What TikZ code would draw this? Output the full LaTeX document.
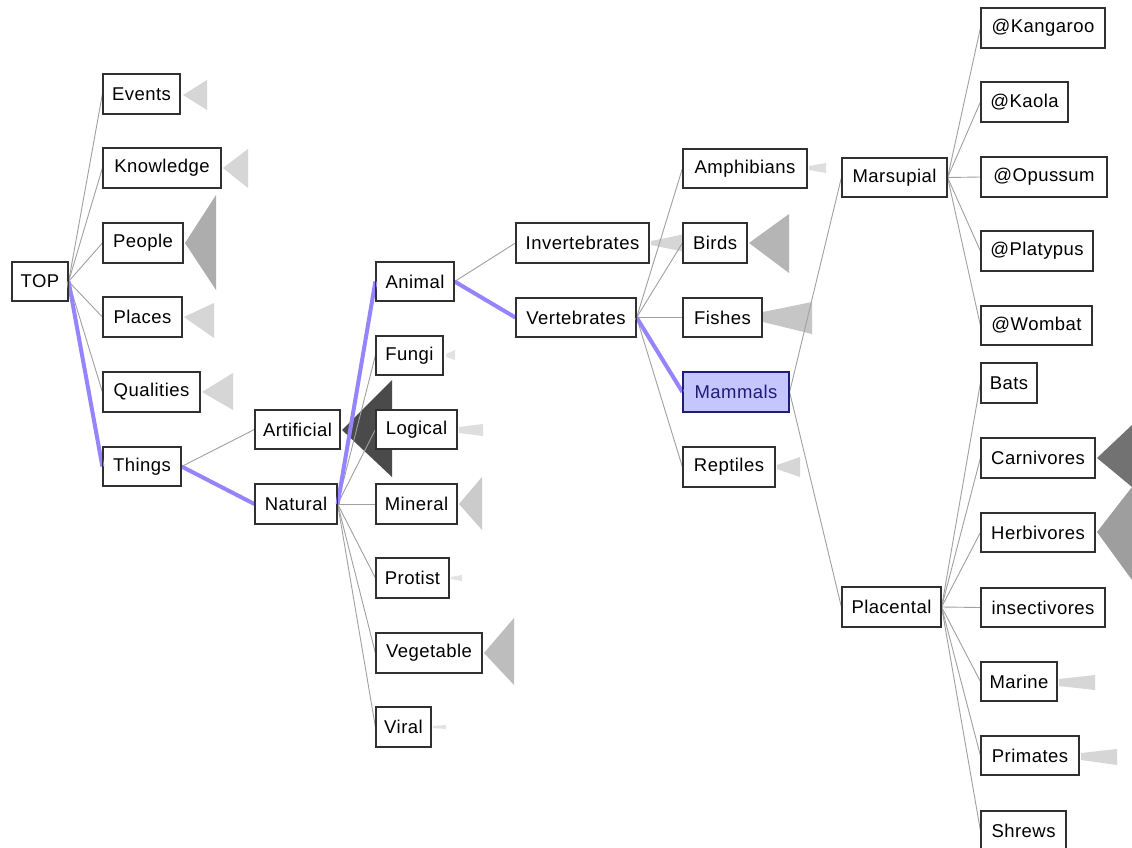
\documentclass[tikz,border=0pt]{standalone}
\usepackage{fontspec}
\setmainfont[LetterSpace=2.5]{Liberation Sans}
\definecolor{edgegrey}{HTML}{A0A0A0}
\definecolor{pathblue}{HTML}{9485FF}
\definecolor{boxline}{HTML}{303030}
\definecolor{fanlight}{HTML}{D6D6D6}
\definecolor{fanmid}{HTML}{ADADAD}
\definecolor{fandark}{HTML}{4A4A4A}
\definecolor{selfill}{HTML}{C6C6FF}
\definecolor{selline}{HTML}{1E1E78}
\begin{document}
\begin{tikzpicture}[x=1pt,y=-1pt,
  box/.style={draw=boxline,line width=1.2pt,fill=white,minimum height=39pt,inner sep=0pt,
    font=\fontsize{18.5}{20}\selectfont,text=black},
  sel/.style={box,fill=selfill,draw=selline,text=selline},
  link/.style={draw=edgegrey,line width=0.9pt},
  hot/.style={draw=pathblue,line width=4pt},
  fan/.style={fill=#1,draw=none}]
\useasboundingbox (0,0) rectangle (1132,848);
\clip (0,0) rectangle (1132,848);
\fill[white] (0,0) rectangle (1132,848);

% collapsed-subtree fans
\path[fan=fanlight] (183,95) -- (207,80) -- (207,110) -- cycle;
\path[fan=fanlight] (223,168) -- (248,149) -- (248,188) -- cycle;
\path[fan=fanmid] (185,243) -- (216,195) -- (216,290) -- cycle;
\path[fan=fanlight] (184,317) -- (214,303) -- (214,338) -- cycle;
\path[fan=fanlight] (202,392) -- (233,373) -- (233,410) -- cycle;
\path[fan=fandark] (342,430) -- (392,380) -- (392,477) -- cycle;
\path[fan=fanlight!70] (446,354) -- (455,350) -- (455,360) -- (446,357) -- cycle;
\path[fan=fanlight!80] (459,427) -- (483,424) -- (483,436) -- (459,433) -- cycle;
\path[fan=fanlight!95!black] (459,504) -- (482,477) -- (482,530) -- cycle;
\path[fan=fanlight!70] (451,577) -- (462,575) -- (462,581) -- (451,579) -- cycle;
\path[fan=fanmid!80!white] (484,653) -- (514,618) -- (514,685) -- cycle;
\path[fan=fanlight!70] (433,726) -- (446,725) -- (446,729) -- (433,728) -- cycle;
\path[fan=fanlight] (651,241) -- (690,233) -- (690,253) -- (651,245) -- cycle;
\path[fan=fanlight!80] (809,166) -- (826,163) -- (826,173) -- (809,170) -- cycle;
\path[fan=fanmid!90!white] (749,243) -- (789,214) -- (789,273) -- cycle;
\path[fan=fanmid!70!white] (763,312) -- (812,302) -- (812,334) -- (763,322) -- cycle;
\path[fan=fanlight] (777,465) -- (800,457) -- (800,477) -- (777,469) -- cycle;
\path[fan=fanmid!40!fandark] (1097,458) -- (1132,425) -- (1132,487) -- cycle;
\path[fan=fanmid!85!fandark] (1097,532) -- (1132,487) -- (1132,580) -- cycle;
\path[fan=fanlight] (1059,679) -- (1095,675) -- (1095,690) -- (1059,686) -- cycle;
\path[fan=fanlight] (1081,753) -- (1117,749) -- (1117,765) -- (1081,760) -- cycle;

% nodes
\node[box,minimum width=56pt]  (top)   at (40,281.5) {TOP};
\node[box,minimum width=77pt]  (events) at (141.5,94) {Events};
\node[box,minimum width=118pt] (knowledge) at (162,168) {Knowledge};
\node[box,minimum width=80pt]  (people) at (143,243) {People};
\node[box,minimum width=79pt]  (places) at (142.5,317) {Places};
\node[box,minimum width=97pt]  (qualities) at (151.5,392) {Qualities};
\node[box,minimum width=78pt]  (things) at (142,466.5) {Things};
\node[box,minimum width=85pt]  (artificial) at (297.5,429.5) {Artificial};
\node[box,minimum width=82pt]  (natural) at (296,504) {Natural};
\node[box,minimum width=78pt]  (animal) at (415,281.5) {Animal};
\node[box,minimum width=67pt]  (fungi) at (409.5,355.5) {Fungi};
\node[box,minimum width=81pt]  (logical) at (416.5,429.5) {Logical};
\node[box,minimum width=81pt]  (mineral) at (416.5,504) {Mineral};
\node[box,minimum width=73pt]  (protist) at (412.5,578) {Protist};
\node[box,minimum width=106pt] (vegetable) at (429,653) {Vegetable};
\node[box,minimum width=55pt]  (viral) at (403.5,727) {Viral};
\node[box,minimum width=133pt] (invert) at (582.5,243) {Invertebrates};
\node[box,minimum width=120pt] (vert) at (576,317.5) {Vertebrates};
\node[box,minimum width=124pt] (amph) at (745,168.5) {Amphibians};
\node[box,minimum width=64pt]  (birds) at (715,243) {Birds};
\node[box,minimum width=79pt]  (fishes) at (722.5,317.5) {Fishes};
\node[sel,minimum width=106pt] (mammals) at (736,392) {Mammals};
\node[box,minimum width=92pt]  (reptiles) at (729,467) {Reptiles};
\node[box,minimum width=105pt] (marsupial) at (894.5,177.5) {Marsupial};
\node[box,minimum width=124pt] (kangaroo) at (1043,28) {@Kangaroo};
\node[box,minimum width=87pt]  (kaola) at (1024.5,102) {@Kaola};
\node[box,minimum width=126pt] (opussum) at (1044,177) {@Opussum};
\node[box,minimum width=112pt] (platypus) at (1037,251) {@Platypus};
\node[box,minimum width=111pt] (wombat) at (1036.5,325.5) {@Wombat};
\node[box,minimum width=99pt]  (placental) at (891.5,607) {Placental};
\node[box,minimum width=56pt]  (bats) at (1009,383) {Bats};
\node[box,minimum width=114pt] (carn) at (1038,458) {Carnivores};
\node[box,minimum width=114pt] (herb) at (1038,532.5) {Herbivores};
\node[box,minimum width=124pt] (insect) at (1043,607.5) {insectivores};
\node[box,minimum width=76pt]  (marine) at (1019,681.5) {Marine};
\node[box,minimum width=98pt]  (primates) at (1030,755.5) {Primates};
\node[box,minimum width=85pt]  (shrews) at (1023.5,830.5) {Shrews};

% connectors
\foreach \p/\c in {top/events,top/knowledge,top/people,top/places,top/qualities,
  things/artificial,
  natural/fungi,natural/logical,natural/mineral,natural/protist,natural/vegetable,natural/viral,
  animal/invert,
  vert/amph,vert/birds,vert/fishes,vert/reptiles,
  mammals/marsupial,mammals/placental,
  marsupial/kangaroo,marsupial/kaola,marsupial/opussum,marsupial/platypus,marsupial/wombat,
  placental/bats,placental/carn,placental/herb,placental/insect,placental/marine,placental/primates,placental/shrews}
  {\draw[link] (\p.east) -- (\c.west);}
\foreach \p/\c in {top/things,things/natural,natural/animal,animal/vert,vert/mammals}
  {\draw[hot] (\p.east) -- (\c.west);}

% redraw box borders on top of connectors
\foreach \n in {top,events,knowledge,people,places,qualities,things,artificial,natural,
  animal,fungi,logical,mineral,protist,vegetable,viral,invert,vert,amph,birds,fishes,
  reptiles,marsupial,kangaroo,kaola,opussum,platypus,wombat,placental,bats,carn,herb,
  insect,marine,primates,shrews}
  {\draw[draw=boxline,line width=1.2pt] (\n.south west) rectangle (\n.north east);}
\draw[draw=selline,line width=1.2pt] (mammals.south west) rectangle (mammals.north east);
\end{tikzpicture}
\end{document}
